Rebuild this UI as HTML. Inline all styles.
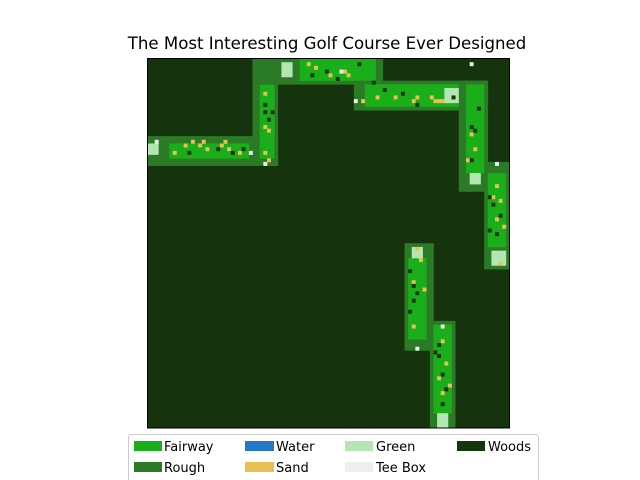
<!DOCTYPE html>
<html><head><meta charset="utf-8"><style>
body{margin:0;background:#fff;}
svg{display:block;font-family:"DejaVu Sans","Liberation Sans",sans-serif;}
</style></head><body>
<svg id="chart" width="640" height="480">
<text x="327" y="49" text-anchor="middle" font-size="16.6" fill="#000">The Most Interesting Golf Course Ever Designed</text>
<g id="grid"></g>
<rect x="147.5" y="58.5" width="362" height="369.5" fill="none" stroke="#000" stroke-width="1"/>
<g>
<rect x="128.5" y="434.5" width="410" height="50" rx="3" fill="#fff" stroke="#ccc"/>
<g><rect x="134" y="441" width="28" height="10" fill="#1aaf1a"/><text x="164" y="451" font-size="13">Fairway</text></g>
<g><rect x="134" y="462" width="28" height="10" fill="#2b7a25"/><text x="164" y="472" font-size="13">Rough</text></g>
<g><rect x="245" y="441" width="29" height="10" fill="#2378c8"/><text x="276" y="451" font-size="13">Water</text></g>
<g><rect x="245" y="462" width="29" height="10" fill="#e6c052"/><text x="276" y="472" font-size="13">Sand</text></g>
<g><rect x="345" y="441" width="28" height="10" fill="#b3e6b0"/><text x="376" y="451" font-size="13">Green</text></g>
<g><rect x="345" y="462" width="28" height="10" fill="#ebf0ea"/><text x="376" y="472" font-size="13">Tee Box</text></g>
<g><rect x="457" y="441" width="28" height="10" fill="#15360e"/><text x="488" y="451" font-size="13">Woods</text></g>
</g>
</svg>
<script>
const terrainTypes = ["woods","rough","fairway","green","tee","sand","water"];
const terrainColors = {woods:"#15330d",rough:"#2b7a25",fairway:"#1aaf1a",green:"#b3e6b0",tee:"#ebf0ea",sand:"#e6c052",water:"#2378c8"};
const rectTypes = ["rough","fairway","green",
 "rough","fairway","green","rough","fairway","green",
 "rough","fairway","green","rough","fairway","green",
 "rough","fairway","green",
 "rough","fairway","green",
 "rough","fairway","green"];
const rectC0 = [0,6,0, 29,31,31,29,42,37, 57,60,82,86,88,89, 93,94,95, 71,72,73, 78,79,80];
const rectR0 = [21,23,23, 0,5,0,0,0,1, 6,7,8,6,7,31, 28,31,52, 50,54,51, 71,72,96];
const rectC1 = [35,27,2, 35,34,33,64,62,39, 93,86,86,93,92,91, 99,98,98, 78,76,75, 84,83,82];
const rectR1 = [28,26,25, 28,26,3,6,5,4, 13,12,11,35,30,33, 56,50,55, 78,75,53, 99,95,99];
const sandCols = [7,10,12,14,15,16,20,21,22,25,32,32,33,32,33,44,46,50,54,55,59,63,68,73,74,78,80,81,79,89,90,88,96,95,97,96,74,75,73,76,74,73,81,80,82,80,83,81,98,97];
const sandRows = [25,23,22,23,22,24,23,22,24,25,9,18,19,25,27,1,2,4,3,4,11,10,10,11,10,10,11,11,11,20,24,27,34,37,38,43,51,54,60,62,63,72,76,80,82,86,88,90,45,55];
const woodsCols = [11,19,23,26,32,32,34,33,31,45,49,52,58,62,65,70,74,84,89,90,91,89,94,95,97,96,94,72,73,74,73,72,80,80,81,82,79,81];
const woodsRows = [25,24,25,24,12,14,14,16,29,4,3,5,1,6,8,9,12,10,18,19,13,27,37,39,42,47,46,57,61,63,65,68,77,80,85,89,79,93];
const teeCols = [2,28,32,57,53,89,96,74,81];
const teeRows = [22,25,28,11,3,1,28,78,72];

const X0=147.5, Y0=58.5, CW=362/100, CH=369.5/100;
const xScale = c => X0 + c*CW;
const yScale = r => Y0 + r*CH;
const g = document.getElementById('grid');
const NS = "http://www.w3.org/2000/svg";
function cellRect(type,c0,r0,c1,r1){
  const el = document.createElementNS(NS,'rect');
  el.setAttribute('x', xScale(c0));
  el.setAttribute('y', yScale(r0));
  el.setAttribute('width', xScale(c1+1)-xScale(c0)+0.3);
  el.setAttribute('height', yScale(r1+1)-yScale(r0)+0.3);
  el.setAttribute('fill', terrainColors[type]);
  
  
  g.appendChild(el);
}
cellRect('woods',0,0,99,99);
for(let i=0;i<rectTypes.length;i++) cellRect(rectTypes[i],rectC0[i],rectR0[i],rectC1[i],rectR1[i]);
for(let i=0;i<sandCols.length;i++) cellRect('sand',sandCols[i],sandRows[i],sandCols[i],sandRows[i]);
for(let i=0;i<woodsCols.length;i++) cellRect('woods',woodsCols[i],woodsRows[i],woodsCols[i],woodsRows[i]);
for(let i=0;i<teeCols.length;i++) cellRect('tee',teeCols[i],teeRows[i],teeCols[i],teeRows[i]);
</script>
</body></html>
